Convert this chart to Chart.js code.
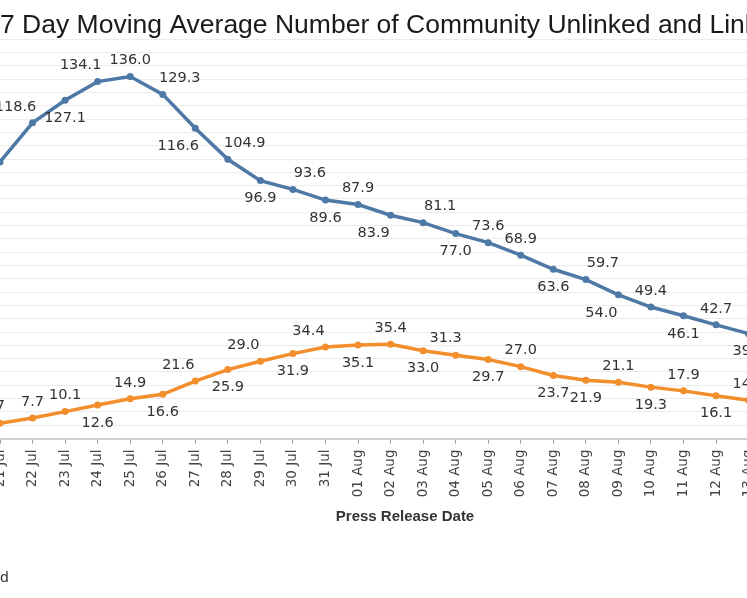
<!DOCTYPE html>
<html>
<head>
<meta charset="utf-8">
<script src="https://cdn.jsdelivr.net/npm/chart.js@4.4.0/dist/chart.umd.min.js"></script>
<style>
  html, body { margin:0; padding:0; background:#fff; overflow:hidden; }
  #wrap { position:relative; width:747px; height:598px; overflow:hidden; background:#fff; }
  #c { position:absolute; left:-40px; top:0; }
</style>
</head>
<body>
<div id="wrap"><canvas id="c" width="830" height="598"></canvas></div>
<script>
const dates = ['21 Jul','22 Jul','23 Jul','24 Jul','25 Jul','26 Jul','27 Jul','28 Jul','29 Jul','30 Jul','31 Jul',
  '01 Aug','02 Aug','03 Aug','04 Aug','05 Aug','06 Aug','07 Aug','08 Aug','09 Aug','10 Aug','11 Aug','12 Aug','13 Aug'];
const unlinked = [103.9,118.6,127.1,134.1,136.0,129.3,116.6,104.9,96.9,93.6,89.6,
  87.9,83.9,81.1,77.0,73.6,68.9,63.6,59.7,54.0,49.4,46.1,42.7,39.4];
const linked = [5.7,7.7,10.1,12.6,14.9,16.6,21.6,25.9,29.0,31.9,34.4,
  35.1,35.4,33.0,31.3,29.7,27.0,23.7,21.9,21.1,19.3,17.9,16.1,14.4];
const yTicks = { min: 0, max: 150, step: 5 };
const titleText = '7 Day Moving Average Number of Community Unlinked and Linked Cases';
const xTitleText = 'Press Release Date';
const legendText = 'Unlinked';

// label placement codes (style only)
const blueLabelPos = ['l','al','b','al','a','ar','bl','ar','b','ar','b','a','bl','ar','b','a','a','b','ar','bl','a','b','a','b'];
const orangeLabelPos = ['aq','a','a','b','a','b','al','b','al','b','al','b','a','b','ah','b','a','b','b','a','b','a','b','a'];
const OFF = { a:[0,-16], b:[0,18], al:[-17,-16], ar:[17,-16], bl:[-17,18], br:[17,18], l:[-32,0], ah:[-10,-17], aq:[-6.5,-17] };

const PAGE_OFFSET = 40; // canvas is shifted left by this many pixels

const labelPlugin = {
  id: 'pointLabels',
  afterDatasetsDraw(chart) {
    const ctx = chart.ctx;
    ctx.save();
    ctx.font = '14.5px "DejaVu Sans", Verdana, sans-serif';
    ctx.fillStyle = '#333';
    ctx.textAlign = 'center';
    ctx.textBaseline = 'middle';
    chart.data.datasets.forEach((ds, di) => {
      const meta = chart.getDatasetMeta(di);
      const pos = ds.labelPos;
      meta.data.forEach((pt, i) => {
        const o = OFF[pos[i]] || OFF.a;
        ctx.fillText(ds.data[i].toFixed(1), pt.x + o[0], pt.y + o[1]);
      });
    });
    ctx.restore();
  }
};

const textPlugin = {
  id: 'extraText',
  afterDraw(chart) {
    const ctx = chart.ctx;
    ctx.save();
    ctx.fillStyle = '#1a1a1a';
    ctx.font = '26.5px "Liberation Sans", Arial, sans-serif';
    ctx.textAlign = 'left';
    ctx.textBaseline = 'alphabetic';
    ctx.fillText(titleText, PAGE_OFFSET + 0, 33);
    ctx.fillStyle = '#333';
    ctx.font = 'bold 15px "Liberation Sans", Arial, sans-serif';
    ctx.textAlign = 'center';
    ctx.textBaseline = 'middle';
    ctx.fillText(xTitleText, PAGE_OFFSET + 405, 517);
    ctx.font = '14px "DejaVu Sans", sans-serif';
    ctx.textAlign = 'right';
    ctx.fillStyle = '#333';
    ctx.fillText(legendText, PAGE_OFFSET + 9, 578);
    ctx.restore();
  }
};

new Chart(document.getElementById('c'), {
  type: 'line',
  data: {
    labels: dates,
    datasets: [
      { label: 'Community Unlinked', data: unlinked, labelPos: blueLabelPos,
        borderColor: '#4e79a7', backgroundColor: '#4e79a7', borderWidth: 3.5,
        pointRadius: 3.5, pointBorderWidth: 0, tension: 0 },
      { label: 'Community Linked', data: linked, labelPos: orangeLabelPos,
        borderColor: '#f28e2b', backgroundColor: '#f28e2b', borderWidth: 3.5,
        pointRadius: 3.5, pointBorderWidth: 0, tension: 0 }
    ]
  },
  options: {
    responsive: false,
    animation: false,
    devicePixelRatio: 1,
    layout: { padding: { top: 39.3, bottom: 0, left: PAGE_OFFSET, right: 41.4 } },
    plugins: { legend: { display: false }, tooltip: { enabled: false }, title: { display: false } },
    scales: {
      x: {
        type: 'category',
        offset: false,
        grid: { drawOnChartArea: false, drawTicks: true, tickLength: 5, color: '#9a9a9a', lineWidth: 1 },
        border: { display: true, color: '#d0d0d0', width: 2 },
        ticks: { autoSkip: false, minRotation: 90, maxRotation: 90, padding: 6,
          font: { family: '"DejaVu Sans", sans-serif', size: 13.5 }, color: '#444' },
        afterFit: s => { s.height = 598 - 438.5; }
      },
      y: {
        min: yTicks.min, max: yTicks.max,
        grid: { color: '#ececec', lineWidth: 1, drawTicks: false },
        border: { display: false },
        ticks: { display: false, stepSize: yTicks.step },
        afterFit: s => { s.width = 0; }
      }
    }
  },
  plugins: [labelPlugin, textPlugin]
});
</script>
</body>
</html>
